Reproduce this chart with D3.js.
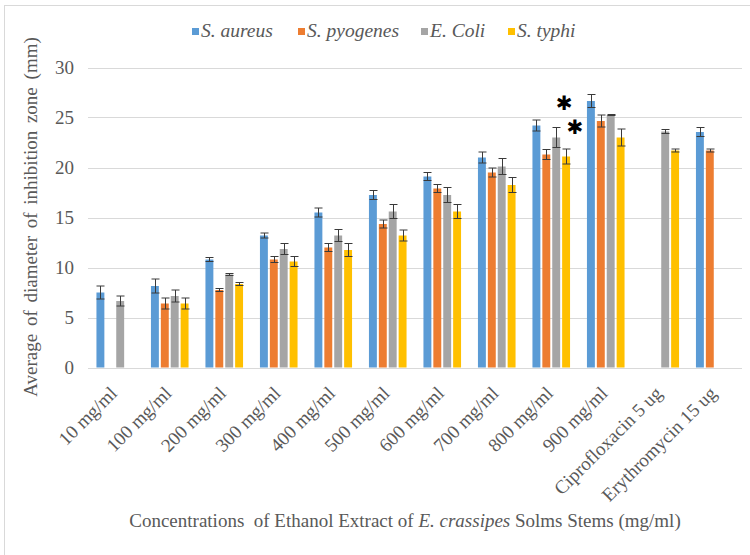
<!DOCTYPE html>
<html>
<head>
<meta charset="utf-8">
<script src="https://cdn.jsdelivr.net/npm/d3@7"></script>
<style>
  html, body { margin: 0; padding: 0; background: #fff; }
  svg { display: block; }
</style>
</head>
<body>
<div id="chart"></div>
<script>
const categories = ["10 mg/ml", "100 mg/ml", "200 mg/ml", "300 mg/ml", "400 mg/ml", "500 mg/ml",
  "600 mg/ml", "700 mg/ml", "800 mg/ml", "900 mg/ml", "Ciprofloxacin 5 ug", "Erythromycin 15 ug"];
const seriesNames = ["S. aureus", "S. pyogenes", "E. Coli", "S. typhi"];
const seriesColors = ["#5B9BD5", "#ED7D31", "#A5A5A5", "#FFC000"];

const aureus      = [7.5, 8.15, 10.8, 13.2, 15.5, 17.25, 19.1, 21.0, 24.2, 26.65, null, 23.55];
const aureusErr   = [0.65, 0.7, 0.2, 0.25, 0.45, 0.45, 0.4, 0.55, 0.55, 0.65, null, 0.45];
const pyogenes    = [null, 6.4, 7.75, 10.8, 12.0, 14.35, 17.9, 19.5, 21.3, 24.65, null, 21.7];
const pyogenesErr = [null, 0.55, 0.15, 0.3, 0.4, 0.4, 0.4, 0.45, 0.5, 0.6, null, 0.15];
const coli        = [6.65, 7.15, 9.3, 11.85, 13.2, 15.6, 17.25, 20.1, 23.0, 25.25, 23.6, null];
const coliErr     = [0.5, 0.6, 0.1, 0.55, 0.6, 0.7, 0.75, 0.8, 1.0, 0.05, 0.2, null];
const typhi       = [null, 6.4, 8.35, 10.6, 11.75, 13.2, 15.6, 18.25, 21.1, 23.0, 21.7, null];
const typhiErr    = [null, 0.55, 0.15, 0.5, 0.65, 0.55, 0.7, 0.75, 0.75, 0.85, 0.15, null];

const yTicks = [0, 5, 10, 15, 20, 25, 30];
// significance marks (category, value height, horizontal offset in series slots)
const markCats = ["800 mg/ml", "800 mg/ml"];
const markValues = [26.6, 24.2];
const markSlots = [3.2, 4.3];

const values = [aureus, pyogenes, coli, typhi];
const errors = [aureusErr, pyogenesErr, coliErr, typhiErr];

const FONT = '"Liberation Serif", "DejaVu Serif", serif';
const W = 750, H = 555;
const svg = d3.select("#chart").append("svg").attr("width", W).attr("height", H)
  .attr("font-family", FONT);

// frame
svg.append("rect").attr("x", 4.5).attr("y", 5.5).attr("width", 800).attr("height", 600)
  .attr("fill", "none").attr("stroke", "#d9d9d9").attr("stroke-width", 1);

const x0 = d3.scaleBand().domain(categories).range([88, 742]).paddingInner(0.31).paddingOuter(0.155);
const x1 = d3.scaleBand().domain(seriesNames).range([0, x0.bandwidth()]).padding(0.2).paddingOuter(0);
const y = d3.scaleLinear().domain([0, 30]).range([367.5, 67.5]);

// gridlines
svg.append("g").selectAll("line").data(yTicks).join("line")
  .attr("x1", 88).attr("x2", 742)
  .attr("y1", d => Math.round(y(d)) + 0.5).attr("y2", d => Math.round(y(d)) + 0.5)
  .attr("stroke", "#d9d9d9").attr("stroke-width", 1);

// y axis labels
const yAxis = d3.axisLeft(y).tickValues(yTicks).tickSize(0).tickPadding(0);
const yg = svg.append("g").attr("transform", "translate(74,0)").call(yAxis)
  .attr("font-family", FONT).attr("font-size", 19);
yg.select(".domain").remove();
yg.selectAll("text").attr("fill", "#595959");

// bars
const flat = [];
seriesNames.forEach((s, si) => {
  categories.forEach((c, ci) => {
    if (values[si][ci] != null) flat.push({ s, si, c, v: values[si][ci], e: errors[si][ci] });
  });
});

svg.append("g").selectAll("rect").data(flat).join("rect")
  .attr("x", d => x0(d.c) + x1(d.s))
  .attr("width", x1.bandwidth())
  .attr("y", d => y(d.v))
  .attr("height", d => y(0) - y(d.v))
  .attr("fill", d => seriesColors[d.si]);

// error bars
const eg = svg.append("g").attr("stroke", "#3a3a3a").attr("stroke-width", 1).attr("fill", "none");
flat.forEach(d => {
  const cx = Math.round(x0(d.c) + x1(d.s) + x1.bandwidth() / 2) + 0.5;
  const y1 = y(d.v + d.e), y2 = y(d.v - d.e);
  eg.append("line").attr("x1", cx).attr("x2", cx).attr("y1", y1).attr("y2", y2);
  eg.append("line").attr("x1", cx - 4).attr("x2", cx + 4).attr("y1", y1).attr("y2", y1);
  eg.append("line").attr("x1", cx - 4).attr("x2", cx + 4).attr("y1", y2).attr("y2", y2);
});

// x tick labels (rotated)
svg.append("g").selectAll("text").data(categories).join("text")
  .attr("transform", d => `translate(${x0(d) + x0.bandwidth() / 2 + 3},${y(0) + 27}) rotate(-45)`)
  .attr("text-anchor", "end")
  .attr("font-size", 19)
  .attr("fill", "#595959")
  .text(d => d);

// significance marks
svg.append("g").selectAll("text").data(markCats).join("text")
  .attr("x", (d, i) => x0(d) + x1.step() * markSlots[i])
  .attr("y", (d, i) => y(markValues[i]) + 8)
  .attr("text-anchor", "middle")
  .attr("font-family", '"DejaVu Sans", sans-serif')
  .attr("font-size", 20)
  .attr("fill", "#000")
  .text("✱");

// y title
svg.append("text")
  .attr("transform", "translate(37,217) rotate(-90)")
  .attr("text-anchor", "middle")
  .attr("font-size", 19)
  .attr("fill", "#595959")
  .style("word-spacing", "3px")
  .text("Average of diameter of inhibition zone (mm)");

// x title
const xt = svg.append("text").attr("x", 405).attr("y", 527).attr("text-anchor", "middle")
  .attr("font-size", 19).attr("fill", "#595959").style("white-space", "pre");
xt.append("tspan").text("Concentrations  of Ethanol Extract of ");
xt.append("tspan").text("E. crassipes").attr("font-style", "italic");
xt.append("tspan").text(" Solms Stems (mg/ml)");

// legend
const legendX = [192, 298, 421, 508];
const lg = svg.append("g");
seriesNames.forEach((s, i) => {
  lg.append("rect").attr("x", legendX[i]).attr("y", 28).attr("width", 7).attr("height", 7).attr("fill", seriesColors[i]);
  lg.append("text").attr("x", legendX[i] + 9).attr("y", 37).attr("font-size", 19.5)
    .attr("font-style", "italic").attr("fill", "#595959").text(s);
});
</script>
</body>
</html>
